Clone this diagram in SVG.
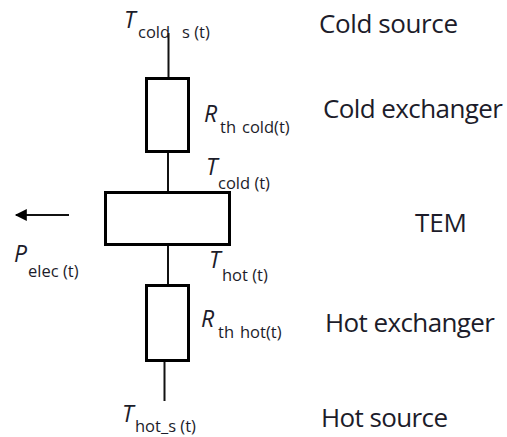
<svg xmlns="http://www.w3.org/2000/svg" width="507" height="437" viewBox="0 0 507 437">
  <style>
    .wire { stroke: #111; stroke-width: 2; fill: none; }
    .box { stroke: #000; stroke-width: 3; fill: #fff; }
    .lbl { font-family: "Open Sans", "Liberation Sans", sans-serif; font-size: 26px; fill: #1c1c2a; }
    .sym { font-family: "Open Sans", "Liberation Sans", sans-serif; font-size: 23px; font-style: italic; fill: #1c1c2a; }
    .sub { font-family: "Open Sans", "Liberation Sans", sans-serif; font-size: 16.5px; font-style: normal; fill: #1c1c2a; }
  </style>
  <defs>
    <marker id="head" viewBox="0 0 10 10" refX="9" refY="5" markerWidth="7" markerHeight="6" orient="auto">
      <path d="M0,0 L10,5 L0,10 Z" fill="#000"/>
    </marker>
  </defs>
  <rect width="507" height="437" fill="#fff"/>

  <!-- connectors -->
  <g id="connectors">
    <line class="wire" x1="168.5" y1="33" x2="168.5" y2="78"/>
    <line class="wire" x1="168" y1="152" x2="168" y2="192"/>
    <line class="wire" x1="168" y1="245" x2="168" y2="285"/>
    <line class="wire" x1="164.5" y1="361" x2="164.5" y2="401"/>
    <line class="wire" x1="69" y1="215" x2="16" y2="215" marker-end="url(#head)"/>
  </g>

  <!-- cold exchanger resistance -->
  <g id="r-cold">
    <rect class="box" x="146.5" y="78.5" width="42" height="73"/>
  </g>

  <!-- thermoelectric module -->
  <g id="tem">
    <rect class="box" x="105.5" y="192.5" width="124" height="52"/>
  </g>

  <!-- hot exchanger resistance -->
  <g id="r-hot">
    <rect class="box" x="146.5" y="285.5" width="42" height="75"/>
  </g>

  <!-- variable labels -->
  <g id="labels">
    <text class="sym" x="124" y="28">T<tspan class="sub" x="138" y="38">cold</tspan><tspan class="sub" x="182" y="38">s (t)</tspan></text>
    <text class="sym" x="204" y="122">R<tspan class="sub" x="220" y="133">th</tspan><tspan class="sub" x="242" y="133">cold(t)</tspan></text>
    <text class="sym" x="206" y="175">T<tspan class="sub" x="218" y="189">cold (t)</tspan></text>
    <text class="sym" x="14" y="262">P<tspan class="sub" x="28" y="277">elec (t)</tspan></text>
    <text class="sym" x="209" y="268">T<tspan class="sub" x="222" y="281">hot (t)</tspan></text>
    <text class="sym" x="201" y="327">R<tspan class="sub" x="218" y="338">th</tspan><tspan class="sub" x="240" y="338">hot(t)</tspan></text>
    <text class="sym" x="122" y="422">T<tspan class="sub" x="135" y="432">hot_s (t)</tspan></text>
  </g>

  <!-- component names -->
  <g id="names">
    <text class="lbl" x="319" y="33" textLength="139">Cold source</text>
    <text class="lbl" x="323" y="118" textLength="180">Cold exchanger</text>
    <text class="lbl" x="415" y="232" textLength="52">TEM</text>
    <text class="lbl" x="325" y="332" textLength="170">Hot exchanger</text>
    <text class="lbl" x="321" y="427" textLength="127">Hot source</text>
  </g>
</svg>
